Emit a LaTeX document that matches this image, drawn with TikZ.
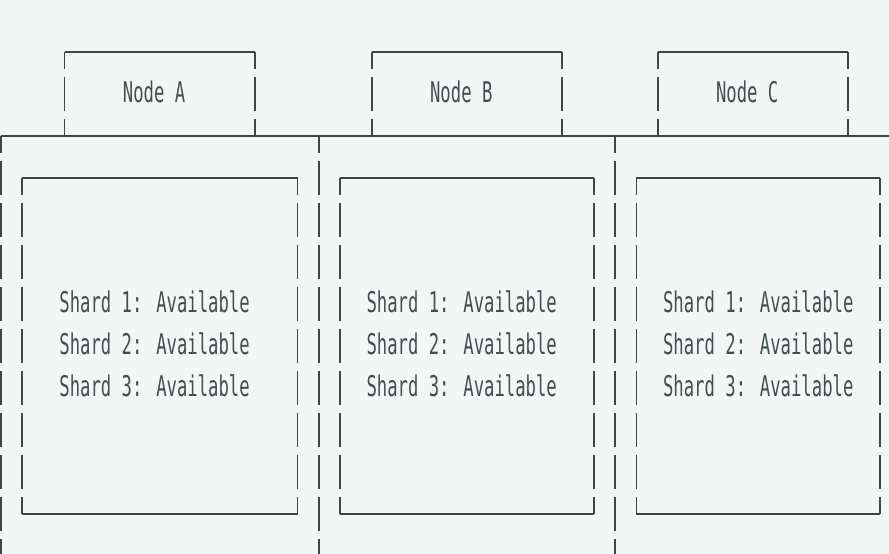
\documentclass[tikz,border=0pt]{standalone}
\usepackage{fontspec}
\newfontfamily\gridfont[FakeStretch=0.605]{DejaVu Sans Mono}
\usetikzlibrary{positioning}
\definecolor{inkline}{HTML}{3A484C}
\definecolor{inktext}{HTML}{434E52}
\definecolor{paper}{HTML}{F4F5F5}

\begin{document}
\begin{tikzpicture}[x=10.59pt,y=-42pt]
  \tikzstyle{rule}=[draw=inkline,line width=1.8pt]
  \tikzstyle{side}=[rule,dash pattern=on 34pt off 8pt,dash phase=17pt]
  \tikzstyle{cell}=[inner sep=0pt,anchor=base west,text=inktext,font=\gridfont\fontsize{28.5}{30}\selectfont]
  \fill[paper] (-0.094,-1.238) rectangle (83.85,11.952);
  \useasboundingbox (-0.094,-1.238) rectangle (83.85,11.952);
  % node headers
  \draw[rule] (6,0) -- (24,0);
  \draw[side] (6,0) -- (6,2);
  \draw[side] (24,0) -- (24,2);
  \draw[rule] (35,0) -- (53,0);
  \draw[side] (35,0) -- (35,2);
  \draw[side] (53,0) -- (53,2);
  \draw[rule] (62,0) -- (80,0);
  \draw[side] (62,0) -- (62,2);
  \draw[side] (80,0) -- (80,2);
  \node[cell] (hdrA) at (11.5,1.2) {Node A};
  \node[cell] (hdrB) at (40.5,1.2) {Node B};
  \node[cell] (hdrC) at (67.5,1.2) {Node C};
  % cluster frame
  \draw[rule] (0,2) -- (83.85,2);
  \draw[side] (0,2) -- (0,11.952);
  \draw[side] (30,2) -- (30,11.952);
  \draw[side] (58,2) -- (58,11.952);
  % shard boxes
  \draw[rule] (2,3) -- (28,3) (2,11) -- (28,11);
  \draw[side] (2,3) -- (2,11);
  \draw[side] (28,3) -- (28,11);
  \draw[rule] (32,3) -- (56,3) (32,11) -- (56,11);
  \draw[side] (32,3) -- (32,11);
  \draw[side] (56,3) -- (56,11);
  \draw[rule] (60,3) -- (83,3) (60,11) -- (83,11);
  \draw[side] (60,3) -- (60,11);
  \draw[side] (83,3) -- (83,11);
  \node[cell] (shA1) at (5.5,6.2) {Shard 1: Available};
  \node[cell] (shA2) at (5.5,7.2) {Shard 2: Available};
  \node[cell] (shA3) at (5.5,8.2) {Shard 3: Available};
  \node[cell] (shB1) at (34.5,6.2) {Shard 1: Available};
  \node[cell] (shB2) at (34.5,7.2) {Shard 2: Available};
  \node[cell] (shB3) at (34.5,8.2) {Shard 3: Available};
  \node[cell] (shC1) at (62.5,6.2) {Shard 1: Available};
  \node[cell] (shC2) at (62.5,7.2) {Shard 2: Available};
  \node[cell] (shC3) at (62.5,8.2) {Shard 3: Available};
\end{tikzpicture}
\end{document}
